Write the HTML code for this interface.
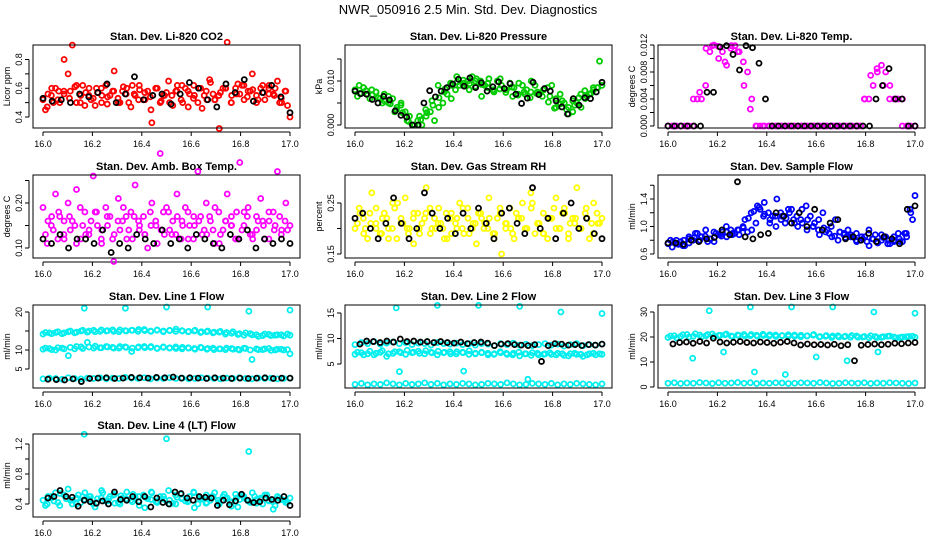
<!DOCTYPE html>
<html><head><meta charset="utf-8"><style>
body{margin:0;background:#fff;}
svg{display:block;font-family:"Liberation Sans",Arial,sans-serif;}
</style></head><body>
<svg id="c" width="936" height="540" viewBox="0 0 936 540">
<text x="468" y="14" text-anchor="middle" font-size="13">NWR_050916  2.5 Min. Std. Dev. Diagnostics</text>
</svg>
<script>
const xTicks=[16.0,16.2,16.4,16.6,16.8,17.0];
const xTickLabels=["16.0","16.2","16.4","16.6","16.8","17.0"];
// Panel 1 CO2
const co2Red=[0.52,0.47,0.55,0.6,0.5,0.58,0.7,0.9,0.62,0.55,0.48,0.6,0.53,0.57,0.5,0.62,0.55,0.72,0.5,0.58,0.6,0.47,0.55,0.62,0.52,0.58,0.36,0.6,0.5,0.55,0.65,0.48,0.58,0.52,0.6,0.56,0.62,0.5,0.46,0.58,0.64,0.52,0.55,0.6,0.92,0.5,0.6,0.56,0.62,0.58,0.7,0.55,0.6,0.52,0.62,0.56,0.65,0.5,0.58,0.4];
const co2Red2=[0.45,0.6,0.52,0.56,0.58,0.5,0.62,0.55,0.48,0.6,0.54,0.58,0.5,0.56,0.62,0.52,0.57,0.45,0.6,0.55,0.5,0.58,0.62,0.47,0.55,0.6,0.52,0.56,0.32,0.6,0.55,0.63,0.52,0.58,0.5,0.62,0.56,0.6,0.53,0.48];
const co2Red3=[0.56,0.5,0.58,0.8,0.53,0.61,0.5,0.57,0.52,0.6,0.55,0.49,0.58,0.53,0.61,0.5,0.56,0.59,0.52,0.54,0.6,0.51,0.57,0.55,0.62,0.5,0.58,0.53,0.6,0.55,0.66,0.52,0.57,0.6,0.5,0.56,0.62,0.54,0.59,0.52,0.57,0.6,0.55,0.5,0.58];
const co2Black=[0.53,0.51,0.52,0.5,0.56,0.54,0.57,0.63,0.5,0.56,0.68,0.52,0.55,0.56,0.49,0.56,0.64,0.6,0.52,0.47,0.63,0.57,0.66,0.51,0.57,0.62,0.54,0.43];
// Panel 2 pressure
const presGreen=[0.008,0.009,0.0085,0.007,0.008,0.0075,0.006,0.007,0.005,0.006,0.004,0.005,0.003,0.002,0.0,0.001,0.0,0.002,0.003,0.001,0.004,0.005,0.007,0.006,0.008,0.009,0.0095,0.01,0.011,0.0105,0.01,0.009,0.0105,0.008,0.01,0.009,0.008,0.0095,0.0085,0.007,0.009,0.008,0.0075,0.009,0.007,0.008,0.0085,0.009,0.006,0.007,0.005,0.004,0.003,0.005,0.004,0.006,0.007,0.008,0.0085,0.009];
const presGreen2=[0.0065,0.0085,0.006,0.0075,0.005,0.0065,0.003,0.0045,0.001,0.0,0.002,0.0035,0.0055,0.009,0.0075,0.0095,0.011,0.009,0.008,0.01,0.0065,0.0095,0.0075,0.0105,0.008,0.0065,0.0095,0.007,0.01,0.0075,0.008,0.0065,0.004,0.0055,0.0025,0.0045,0.007,0.0065,0.0085,0.0145];
const presGreen3=[0.0072,0.0078,0.0068,0.0062,0.0055,0.0048,0.0035,0.0028,0.0008,0.0,0.0012,0.0028,0.0045,0.0062,0.0082,0.009,0.0098,0.0102,0.0094,0.0088,0.0092,0.0085,0.0078,0.0082,0.0074,0.0086,0.0068,0.0075,0.0062,0.0072,0.0065,0.0052,0.0038,0.0048,0.0035,0.0055,0.0062,0.0078,0.0072,0.0085];
const presBlack=[0.0077,0.0071,0.007,0.0058,0.005,0.0065,0.0057,0.0032,0.0022,0.0018,0.0,0.0,0.005,0.0078,0.0064,0.0077,0.0085,0.0093,0.0104,0.0088,0.0107,0.0085,0.0096,0.0077,0.0087,0.0098,0.0083,0.0094,0.007,0.0049,0.0061,0.0097,0.0069,0.0083,0.0077,0.0055,0.0041,0.0025,0.006,0.0045,0.0062,0.006,0.0075,0.0097];
// Panel 3 temp
const tempMag=[0,0,0,0,0,0,0,0.004,0.004,0.006,0.011,0.012,0.0118,0.011,0.009,0.0115,0.0119,0.011,0.0095,0.008,0.004,0,0,0,0,0,0,0,0,0,0,0,0,0,0,0,0,0,0,0,0,0,0,0,0,0,0,0.004,0.004,0.006,0.008,0.009,0.008,0.006,0.004,0.004,0.004,0,0,0];
const tempMag2=[0,0,0,0,0.004,0.005,0.0115,0.0119,0.01,0.0095,0.0119,0.011,0.006,0.0025,0,0,0,0,0,0,0,0,0,0,0,0,0,0,0,0,0,0.004,0.0075,0.0085,0.006,0.004,0.004,0,0,0];
const tempBlack=[0,0,0,0,0,0,0.005,0.005,0.0117,0.0119,0.0106,0.0083,0.0119,0.0116,0.0093,0.004,0,0,0,0,0,0,0,0,0,0,0,0,0,0,0,0,0.004,0.006,0.0085,0.004,0.004,0,0];
// Panel 4 amb box temp
const ambMag=[0.19,0.11,0.15,0.22,0.17,0.13,0.2,0.16,0.23,0.12,0.18,0.14,0.26,0.15,0.11,0.19,0.17,0.13,0.21,0.16,0.12,0.18,0.24,0.14,0.17,0.1,0.2,0.15,0.31,0.13,0.18,0.16,0.22,0.12,0.19,0.15,0.17,0.27,0.13,0.2,0.16,0.11,0.18,0.14,0.22,0.17,0.12,0.29,0.15,0.19,0.13,0.17,0.21,0.12,0.16,0.18,0.27,0.14,0.2,0.15];
const ambMag2=[0.13,0.17,0.12,0.16,0.14,0.11,0.15,0.13,0.18,0.12,0.15,0.07,0.14,0.17,0.12,0.16,0.13,0.15,0.11,0.18,0.14,0.13,0.16,0.12,0.15,0.17,0.13,0.14,0.11,0.16,0.15,0.12,0.18,0.13,0.14,0.16,0.12,0.15,0.13,0.14];
const ambMag3=[0.16,0.14,0.18,0.12,0.17,0.15,0.19,0.13,0.16,0.18,0.14,0.17,0.12,0.16,0.19,0.14,0.17,0.15,0.13,0.18,0.16,0.14,0.19,0.13,0.17,0.15,0.18,0.12,0.16,0.14,0.17,0.19,0.13,0.16,0.15,0.18,0.14,0.17,0.12,0.16,0.15,0.18,0.14,0.17,0.16];
const ambBlack=[0.12,0.11,0.13,0.1,0.12,0.12,0.11,0.14,0.09,0.11,0.1,0.13,0.12,0.11,0.14,0.11,0.12,0.1,0.13,0.12,0.11,0.1,0.13,0.12,0.14,0.1,0.12,0.11,0.12,0.11];
// Panel 5 RH
const rhYellow=[0.2,0.24,0.22,0.18,0.27,0.21,0.19,0.23,0.2,0.25,0.18,0.22,0.26,0.2,0.17,0.23,0.21,0.28,0.19,0.22,0.24,0.2,0.18,0.23,0.21,0.25,0.19,0.22,0.2,0.17,0.23,0.21,0.26,0.19,0.22,0.15,0.2,0.24,0.18,0.22,0.25,0.2,0.27,0.19,0.21,0.23,0.18,0.22,0.26,0.2,0.24,0.19,0.22,0.28,0.2,0.23,0.18,0.25,0.21,0.22];
const rhYellow2=[0.21,0.19,0.23,0.2,0.22,0.18,0.24,0.21,0.2,0.22,0.19,0.23,0.2,0.21,0.18,0.22,0.2,0.24,0.19,0.21,0.22,0.2,0.18,0.23,0.21,0.19,0.22,0.2,0.24,0.21,0.19,0.22,0.2,0.23,0.18,0.21,0.2,0.22,0.19,0.21];
const rhYellow3=[0.23,0.2,0.21,0.24,0.19,0.22,0.2,0.25,0.21,0.19,0.23,0.2,0.22,0.24,0.2,0.21,0.23,0.19,0.22,0.2,0.24,0.21,0.23,0.2,0.22,0.19,0.24,0.21,0.2,0.23,0.22,0.2,0.25,0.21,0.19,0.22,0.24,0.2,0.23,0.21,0.22,0.2,0.24,0.21,0.23];
const rhBlack=[0.22,0.23,0.2,0.18,0.21,0.26,0.21,0.18,0.2,0.27,0.23,0.2,0.22,0.19,0.23,0.2,0.24,0.21,0.18,0.23,0.24,0.21,0.19,0.28,0.2,0.22,0.18,0.23,0.25,0.2,0.22,0.19,0.18];
// Panel 6 sample flow
const sfBlue=[0.75,0.7,0.8,0.78,0.72,0.85,0.8,0.9,0.85,0.95,0.82,0.78,0.88,0.92,0.85,0.95,0.9,0.88,0.98,0.92,0.95,1.05,1.25,1.35,1.2,1.15,1.4,1.1,1.05,1.2,1.1,1.0,1.25,1.3,1.15,1.05,1.1,1.2,0.95,1.0,1.1,0.92,0.88,0.95,0.85,0.9,0.8,0.85,0.95,0.82,0.78,0.88,0.85,0.75,0.8,0.9,0.78,0.85,1.2,1.45];
const sfBlue2=[0.8,0.75,0.72,0.82,0.9,0.85,0.78,0.92,0.88,1.0,0.9,0.95,1.1,1.2,1.3,1.15,1.05,1.0,1.15,1.25,1.05,1.1,0.95,1.0,0.88,0.92,0.85,0.8,0.9,0.85,0.78,0.82,0.72,0.88,0.8,0.75,0.85,0.78,0.9,1.1];
const sfBlue3=[0.78,0.74,0.8,0.76,0.84,0.8,0.86,0.82,0.9,0.86,0.92,0.88,0.95,1.0,1.12,1.22,1.28,1.18,1.1,1.15,1.2,1.12,1.25,1.15,1.05,1.1,1.0,0.95,0.98,0.9,0.86,0.92,0.84,0.88,0.8,0.85,0.78,0.82,0.76,0.84,0.8,0.78,0.82,0.9,1.25];
const sfBlack=[0.76,0.76,0.74,0.8,0.78,0.82,0.84,0.95,0.88,1.65,0.85,0.82,0.88,0.9,1.2,1.15,1.05,1.2,1.0,1.25,0.95,1.05,1.1,0.82,0.85,0.8,0.9,0.78,0.85,0.82,0.75,1.25,1.3];
// Panel 7 line 1
const l1Top=[14.2,14.5,14.6,14.3,14.8,14.5,15.0,14.7,15.2,14.9,15.0,15.3,14.8,15.1,15.2,14.9,15.4,15.0,15.2,14.8,15.1,15.5,15.0,14.9,15.2,14.8,15.0,14.7,14.9,14.6,14.8,14.3,14.5,14.0,13.6,14.2,13.8,14.0,13.7,13.9];
const l1Top2=[14.6,14.3,14.8,14.5,15.0,14.7,15.2,15.0,14.8,15.3,15.1,14.9,15.3,15.0,15.2,15.4,15.1,14.9,15.3,15.0,15.2,14.9,15.1,14.8,15.0,14.6,14.8,14.5,14.7,14.2,14.4,14.1,13.9,14.3,14.0,13.8,14.1,13.9,14.0,14.2];
const l1Mid=[10.2,10.4,10.0,10.5,8.5,10.3,10.8,12.0,10.5,10.6,10.9,10.7,10.5,10.8,9.6,10.6,10.9,10.7,10.5,10.8,10.6,10.4,10.7,10.5,10.2,10.6,10.4,10.1,10.3,10.5,10.2,10.0,10.4,7.5,10.1,10.3,9.9,10.2,10.0,9.0];
const l1Mid2=[10.5,10.1,10.6,10.3,10.7,10.9,10.4,10.8,11.0,10.6,10.8,10.5,10.9,10.7,10.5,10.8,10.6,10.9,10.4,10.7,10.5,10.8,10.3,10.6,10.4,10.7,10.2,10.5,10.3,10.1,10.4,10.2,10.5,10.0,10.3,10.1,10.4,10.0,10.2,10.1];
const l1Low=[2.4,2.6,2.5,2.3,2.7,2.5,2.4,2.6,2.5,2.7,2.4,2.6,2.5,2.8,2.6,2.5,2.7,2.4,2.6,2.5,2.7,2.5,2.6,2.4,2.5,2.7,2.6,2.5,2.4,2.6,2.5,2.7,2.5,2.4,2.6,2.5,2.6,2.4,2.5,2.6];
const l1Out=[21,21,21.3,21.3,20.2,20.5];
const l1Black=[2.3,2.2,2.1,2.4,1.7,2.5,2.6,2.7,2.5,2.6,2.8,2.7,2.6,2.8,2.7,2.9,2.6,2.7,2.6,2.5,2.7,2.6,2.5,2.6,2.5,2.6,2.7,2.5,2.6,2.6];
// Panel 8 line 2
const l2Upper=[8.8,9.2,9.0,9.4,8.9,9.1,9.3,9.0,9.2,8.8,9.1,9.0,8.7,9.2,9.0,8.9,9.1,8.8,9.0,8.7,9.0,8.9,8.6,9.0,8.8,9.1,8.7,8.9,8.6,8.8,9.0,8.7,8.9,8.5,8.8,9.0,8.6,8.8,8.7,8.9];
const l2Mid=[6.9,7.2,7.0,6.8,7.3,6.5,7.1,7.4,6.9,7.2,7.5,7.0,7.3,6.8,7.2,7.4,7.0,7.3,6.9,7.1,7.2,6.8,7.0,7.2,6.9,7.1,6.6,7.0,7.2,6.8,7.0,6.9,7.1,6.7,7.0,6.9,6.5,7.0,6.8,6.9];
const l2Mid2=[7.3,6.8,7.5,7.1,7.6,7.0,7.4,7.2,7.7,7.3,7.1,7.6,7.2,7.5,7.3,7.0,7.4,7.2,7.6,7.0,7.3,7.1,6.9,7.4,7.1,6.8,7.3,7.0,6.7,7.1,6.9,7.2,6.8,7.0,6.6,7.1,6.9,6.8,7.1,7.0];
const l2Low=[1.0,1.2,0.9,1.1,1.0,1.3,1.1,0.9,1.2,1.0,1.1,1.3,1.0,1.2,0.9,1.1,1.0,1.2,1.1,0.9,1.0,1.2,1.1,1.0,1.3,1.1,0.9,1.0,1.2,1.1,1.0,1.2,0.9,1.1,1.0,1.2,1.1,1.0,0.9,1.1];
const l2Out=[16.0,16.5,16.5,16.3,15.2,14.9];
const l2LowOut=[3.5,3.6,2.0];
const l2Black=[8.9,9.5,9.4,9.2,9.5,9.3,9.9,9.4,9.5,9.3,9.4,9.2,9.4,9.2,9.1,9.3,9.0,9.2,9.3,9.1,8.6,8.9,9.0,8.8,8.7,8.6,8.8,5.5,8.6,9.0,8.9,8.7,8.8,8.6,8.8,8.7,8.9];
// Panel 9 line 3
const l3Top=[19.8,20.5,20.2,21.0,20.3,20.8,20.5,21.2,20.6,20.9,20.4,20.8,21.0,20.5,20.7,21.1,20.4,20.8,20.6,20.9,20.3,20.7,20.5,21.0,20.2,20.6,20.4,20.0,20.3,20.6,19.9,20.2,20.5,19.8,20.1,20.4,19.7,20.0,20.2,19.9];
const l3Top2=[20.4,19.6,20.9,20.0,21.3,20.1,21.0,20.3,20.7,21.2,20.2,20.6,20.4,21.0,20.3,20.6,20.9,20.2,20.5,20.3,20.8,20.1,20.4,20.7,20.0,20.3,19.8,20.5,20.1,19.9,20.4,20.0,19.7,20.2,19.9,20.3,20.0,19.8,20.1,20.3];
const l3Low=[1.5,1.7,1.4,1.6,1.5,1.8,1.6,1.4,1.7,1.5,1.6,1.8,1.5,1.7,1.4,1.6,1.5,1.7,1.6,1.4,1.5,1.7,1.6,1.5,1.8,1.6,1.4,1.5,1.7,1.6,1.5,1.7,1.4,1.6,1.5,1.7,1.6,1.5,1.4,1.6];
const l3Out=[30.5,32,32,32,30,29.5];
const l3Mid=[11.5,14,6,5,12,10.5,14];
const l3Black=[17.2,17.8,18.0,17.5,18.2,17.6,19.5,18.0,17.6,17.9,18.2,17.8,17.6,18.0,17.8,17.5,17.9,18.2,17.6,16.8,17.2,16.9,17.0,16.8,17.1,16.5,16.9,10.5,16.7,17.0,17.2,16.9,17.1,17.5,17.3,17.6,17.8];
// Panel 10 line 4
const l4Cyan=[0.45,0.4,0.5,0.55,0.38,0.52,0.6,0.45,0.48,0.42,0.55,0.5,0.4,0.47,0.58,0.44,0.5,0.53,0.42,0.48,0.56,0.45,0.5,0.38,0.52,0.47,0.55,0.43,0.5,0.46,0.58,0.41,0.49,0.53,0.44,0.5,0.56,0.4,0.47,0.52,0.45,0.55,0.42,0.5,0.48,0.37,0.53,0.46,0.5,0.44,0.55,0.41,0.48,0.52,0.45,0.33,0.5,0.46,0.42,0.48];
const l4Cyan2=[0.38,0.48,0.42,0.52,0.45,0.4,0.5,0.46,0.36,0.48,0.44,0.52,0.4,0.47,0.43,0.5,0.35,0.46,0.42,0.5,0.45,0.4,0.48,0.44,0.35,0.46,0.42,0.5,0.4,0.47,0.43,0.36,0.48,0.42,0.46,0.4,0.44,0.38,0.46,0.42];
const l4Cyan3=[0.5,0.44,0.54,0.47,0.4,0.52,0.46,0.5,0.42,0.55,0.47,0.41,0.51,0.45,0.53,0.43,0.49,0.56,0.44,0.5,0.4,0.52,0.47,0.43,0.55,0.48,0.41,0.5,0.45,0.53,0.42,0.48,0.51,0.44,0.5,0.46,0.52,0.43,0.48,0.45];
const l4Out=[1.33,1.27,1.1];
const l4Black=[0.48,0.5,0.58,0.5,0.49,0.37,0.45,0.43,0.41,0.44,0.4,0.56,0.46,0.45,0.5,0.43,0.5,0.36,0.48,0.42,0.4,0.56,0.54,0.48,0.45,0.5,0.49,0.48,0.38,0.45,0.39,0.44,0.53,0.45,0.42,0.43,0.48,0.46,0.45,0.5,0.38];

const CY='#00eeee';
const panels=[
 {name:'co2',title:'Stan. Dev. Li-820 CO2',ylab:'Licor ppm',col:0,row:0,ref:[0.4,117,0.8,59.5],ticks:[0.4,0.5,0.6,0.7,0.8],labels:[0.4,0.6,0.8],fmt:1,
  series:[[co2Red,'#ff0000'],[co2Red2,'#ff0000',16.01,16.99],[co2Red3,'#ff0000',16.02,16.98],[co2Black,'#000']]},
 {name:'pressure',title:'Stan. Dev. Li-820 Pressure',ylab:'kPa',col:1,row:0,ref:[0,125,0.01,81],ticks:[0,0.005,0.01,0.015],labels:[0,0.01],fmt:3,
  series:[[presGreen,'#00cc00'],[presGreen2,'#00cc00',16.01,16.99],[presGreen3,'#00cc00',16.02,16.98],[presBlack,'#000']]},
 {name:'temp',title:'Stan. Dev. Li-820 Temp.',ylab:'degrees C',col:2,row:0,ref:[0,126,0.012,45],ticks:[0,0.002,0.004,0.006,0.008,0.01,0.012],labels:[0,0.004,0.008,0.012],fmt:3,
  series:[[tempMag,'#ff00ff'],[tempMag2,'#ff00ff'],[tempBlack,'#000']]},
 {name:'amb-box-temp',title:'Stan. Dev. Amb. Box Temp.',ylab:'degrees C',col:0,row:1,ref:[0.1,248,0.2,203],ticks:[0.1,0.15,0.2,0.25],labels:[0.1,0.2],fmt:2,
  series:[[ambMag,'#ff00ff'],[ambMag2,'#ff00ff',16.01,16.99],[ambMag3,'#ff00ff',16.02,16.98],[ambBlack,'#000']]},
 {name:'gas-stream-rh',title:'Stan. Dev. Gas Stream RH',ylab:'percent',col:1,row:1,ref:[0.15,254,0.25,203],ticks:[0.15,0.2,0.25],labels:[0.15,0.25],fmt:2,
  series:[[rhYellow,'#ffff00'],[rhYellow2,'#ffff00',16.01,16.99],[rhYellow3,'#ffff00',16.02,16.98],[rhBlack,'#000']]},
 {name:'sample-flow',title:'Stan. Dev. Sample Flow',ylab:'ml/min',col:2,row:1,ref:[0.6,254,1.4,199],ticks:[0.6,0.8,1.0,1.2,1.4,1.6],labels:[0.6,1.0,1.4],fmt:1,
  series:[[sfBlue,'#0000ff'],[sfBlue2,'#0000ff',16.01,16.99],[sfBlue3,'#0000ff',16.02,16.98],[sfBlack,'#000']]},
 {name:'line1-flow',title:'Stan. Dev. Line 1 Flow',ylab:'ml/min',col:0,row:2,ref:[5,369,20,312],ticks:[5,10,15,20],labels:[5,10,20],fmt:0,
  series:[[l1Top,CY],[l1Top2,CY,16.01,16.99],[l1Mid,CY],[l1Mid2,CY,16.01,16.99],[l1Low,CY],[l1Out,CY,16.167,17.0],[l1Black,'#000',16.02,17.0]]},
 {name:'line2-flow',title:'Stan. Dev. Line 2 Flow',ylab:'ml/min',col:1,row:2,ref:[5,364,15,313],ticks:[5,10,15],labels:[5,10,15],fmt:0,
  series:[[l2Upper,CY],[l2Mid,CY],[l2Mid2,CY,16.01,16.99],[l2Low,CY],[l2Out,CY,16.167,17.0],[l2LowOut,CY,16.18,16.7],[l2Black,'#000',16.02,17.0]]},
 {name:'line3-flow',title:'Stan. Dev. Line 3 Flow',ylab:'ml/min',col:2,row:2,ref:[0,387,30,312],ticks:[0,10,20,30],labels:[0,10,20,30],fmt:0,
  series:[[l3Top,CY],[l3Top2,CY,16.01,16.99],[l3Low,CY],[l3Out,CY,16.167,17.0],[l3Mid,CY,16.1,16.85],[l3Black,'#000',16.02,17.0]]},
 {name:'line4-flow',title:'Stan. Dev. Line 4 (LT) Flow',ylab:'ml/min',col:0,row:3,ref:[0.4,504,1.2,444],ticks:[0.4,0.6,0.8,1.0,1.2],labels:[0.4,0.8,1.2],fmt:1,
  series:[[l4Cyan,CY],[l4Cyan2,CY,16.01,16.99],[l4Cyan3,CY,16.02,16.98],[l4Out,CY,16.167,16.833],[l4Black,'#000',16.02,17.0]]}
];
const NS='http://www.w3.org/2000/svg';
const svg=document.getElementById('c');
const colL=[33,345,658], rowT=[45,175,305,434], W=267, H=83;
function mk(t,a,p){const e=document.createElementNS(NS,t);for(const k in a)e.setAttribute(k,a[k]);(p||svg).appendChild(e);return e;}
panels.forEach(p=>{
  const L=colL[p.col], T=rowT[p.row];
  const g=mk('g',{});
  
  
  const xs=v=>L+10+(v-16)*247;
  const [v1,y1,v2,y2]=p.ref;
  const ys=v=>y1+(v-v1)*(y2-y1)/(v2-v1);
  const tt=mk('text',{x:L+W/2,y:T-5,'text-anchor':'middle','font-size':'11','font-weight':'bold'},g);
  tt.textContent=p.title;
  
  
  const xa=mk('g',{},g);
  
  
  mk('line',{x1:xs(16),x2:xs(17),y1:T+H+4,y2:T+H+4,stroke:'#000'},xa);
  xTicks.forEach((v,i)=>{
    mk('line',{x1:xs(v),x2:xs(v),y1:T+H+4,y2:T+H+8,stroke:'#000'},xa);
    const t=mk('text',{x:xs(v),y:T+H+19,'text-anchor':'middle','font-size':'9'},xa);
    t.textContent=xTickLabels[i];
  });
  const ya=mk('g',{},g);
  
  
  const tv=p.ticks.map(ys);
  mk('line',{x1:L-4,x2:L-4,y1:Math.min(...tv),y2:Math.max(...tv),stroke:'#000'},ya);
  p.ticks.forEach(v=>{mk('line',{x1:L-8,x2:L-4,y1:ys(v),y2:ys(v),stroke:'#000'},ya);});
  p.labels.forEach(v=>{
    const x=L-11,y=ys(v);
    const t=mk('text',{x:x,y:y,'text-anchor':'middle','font-size':'9',transform:`rotate(-90 ${x} ${y})`},ya);
    t.textContent=v.toFixed(p.fmt);
  });
  const yl=mk('text',{x:L-23,y:T+H/2,'text-anchor':'middle','font-size':'9',transform:`rotate(-90 ${L-23} ${T+H/2})`},g);
  yl.textContent=p.ylab;
  
  
  p.series.forEach((s,si)=>{
    const vals=s[0],col=s[1],x0=s[2]!==undefined?s[2]:16,x1=s[3]!==undefined?s[3]:17;
    const sg=mk('g',{},g);
    
    
    vals.forEach((v,i)=>{
      const xv=vals.length>1?x0+i*(x1-x0)/(vals.length-1):x0;
      const c=mk('circle',{cx:xs(xv),cy:ys(v),r:2.5,fill:'none',stroke:col,'stroke-width':1.8},sg);
      
      
    });
  });
  mk('rect',{x:L,y:T,width:W,height:H,fill:'none',stroke:'#000','stroke-width':1},g);
});
</script>
</body></html>
